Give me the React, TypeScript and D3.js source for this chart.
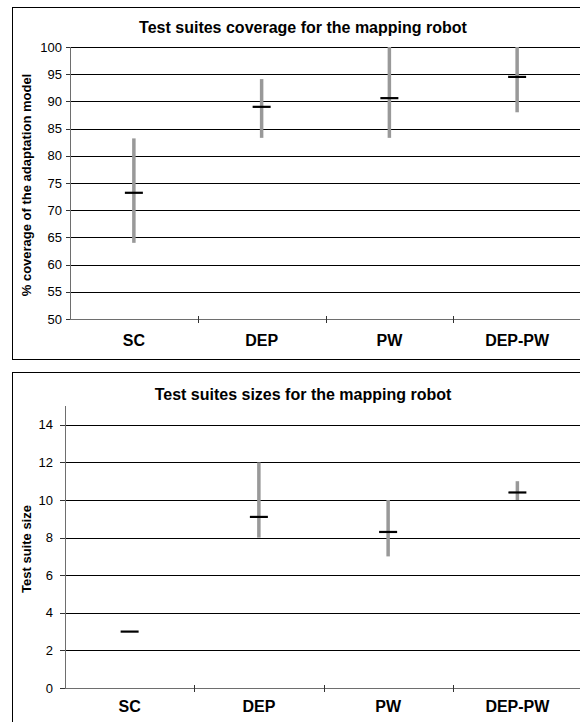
import React from 'react'
import * as d3 from 'd3'

const categories = ['SC', 'DEP', 'PW', 'DEP-PW']

// coverage chart (%)
const coverageMean = [73.2, 89.0, 90.6, 94.5]
const coverageMin = [64.0, 83.3, 83.3, 88.0]
const coverageMax = [83.2, 94.1, 100, 100]
const coverageTicks = [50, 55, 60, 65, 70, 75, 80, 85, 90, 95, 100]

// size chart
const sizeMean = [3.0, 9.1, 8.3, 10.4]
const sizeMin = [3, 8, 7, 10]
const sizeMax = [3, 12, 10, 11]
const sizeTicks = [0, 2, 4, 6, 8, 10, 12, 14]

const FONT = '"Liberation Sans", Arial, sans-serif'

function Panel(props) {
  const { frameY, frameH, left, top, bottom, right, domain, ticks, title, titleY, yLabel, yLabelY, tickLen, labelEnd, catY, mean, lo, hi, gridTop } = props

  const x = d3.scaleBand().domain(categories).range([left, right])
  const y = d3.scaleLinear().domain(domain).range([bottom, top])

  return (
    <g>
      <rect x={12.5} y={frameY + 0.5} width={600} height={frameH} fill="#fff" stroke="#000" strokeWidth={1} />
      <text x={303} y={titleY} textAnchor="middle" fontFamily={FONT} fontWeight="bold" fontSize={16}>{title}</text>

      {/* gridlines */}
      {ticks.filter(t => t !== domain[0] && (gridTop || t !== domain[1])).map(t => (
        <line key={'g' + t} x1={left} x2={right + 10} y1={Math.round(y(t)) + 0.5} y2={Math.round(y(t)) + 0.5} stroke="#000" strokeWidth={1} />
      ))}

      {/* axes */}
      <line x1={left + 0.5} x2={left + 0.5} y1={top} y2={bottom} stroke="#6e6e6e" strokeWidth={1} />
      <line x1={left} x2={right + 10} y1={Math.round(bottom) + 0.5} y2={Math.round(bottom) + 0.5} stroke="#6e6e6e" strokeWidth={1} />
      {ticks.map(t => (
        <g key={'t' + t}>
          <line x1={left - tickLen} x2={left} y1={Math.round(y(t)) + 0.5} y2={Math.round(y(t)) + 0.5} stroke="#333" strokeWidth={1} />
          <text x={labelEnd} y={y(t)} dy="0.36em" textAnchor="end" fontFamily={FONT} fontSize={13} fill="#000">{t}</text>
        </g>
      ))}
      {categories.slice(1).map(c => (
        <line key={'xt' + c} x1={Math.round(x(c)) + 0.5} x2={Math.round(x(c)) + 0.5} y1={bottom - 3} y2={bottom + 4} stroke="#333" strokeWidth={1} />
      ))}
      {categories.map(c => (
        <text key={'xl' + c} x={x(c) + x.bandwidth() / 2} y={catY} textAnchor="middle" fontFamily={FONT} fontWeight="bold" fontSize={16}>{c}</text>
      ))}

      <text transform={`translate(26,${yLabelY}) rotate(-90)`} textAnchor="middle" dominantBaseline="central" fontFamily={FONT} fontWeight="bold" fontSize={13}>{yLabel}</text>

      {/* min-max ranges and averages */}
      {categories.map((c, i) => {
        const cx = x(c) + x.bandwidth() / 2
        return (
          <g key={'m' + c}>
            {hi[i] > lo[i] && (
              <line x1={cx} x2={cx} y1={y(hi[i])} y2={y(lo[i])} stroke="#999" strokeWidth={3.5} />
            )}
            <line x1={cx - 9} x2={cx + 9} y1={y(mean[i])} y2={y(mean[i])} stroke="#000" strokeWidth={2.2} />
          </g>
        )
      })}
    </g>
  )
}

export default function App() {
  return (
    <svg width={580} height={722} style={{ position: 'absolute', left: 0, top: 0, background: '#fff' }}>
      <rect x={0} y={0} width={580} height={722} fill="#fff" />
      <Panel
        frameY={7} frameH={352}
        left={70} top={47} bottom={319} right={581}
        domain={[50, 100]} ticks={coverageTicks} gridTop={true}
        title="Test suites coverage for the mapping robot" titleY={33}
        yLabel="% coverage of the adaptation model" yLabelY={185}
        tickLen={4} labelEnd={62} catY={346}
        mean={coverageMean} lo={coverageMin} hi={coverageMax}
      />
      <Panel
        frameY={372} frameH={400}
        left={65} top={406} bottom={688} right={582}
        domain={[0, 15]} ticks={sizeTicks} gridTop={false}
        title="Test suites sizes for the mapping robot" titleY={400}
        yLabel="Test suite size" yLabelY={549}
        tickLen={5} labelEnd={53} catY={712}
        mean={sizeMean} lo={sizeMin} hi={sizeMax}
      />
    </svg>
  )
}
